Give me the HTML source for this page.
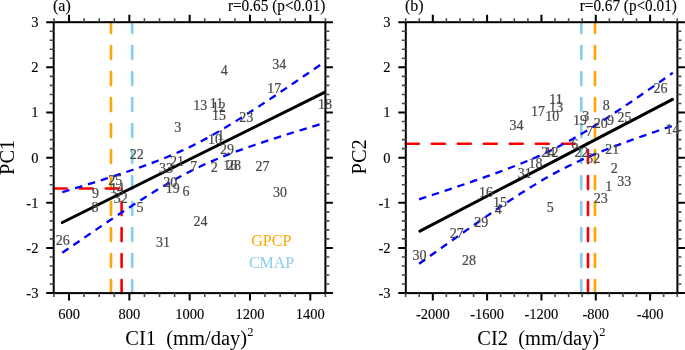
<!DOCTYPE html>
<html><head><meta charset="utf-8"><style>
html,body{margin:0;padding:0;background:#fff;width:685px;height:350px;overflow:hidden;}
svg{display:block;will-change:transform;}
</style></head><body>
<svg width="685" height="350" viewBox="0 0 685 350">
<line x1="111" y1="293.1" x2="111" y2="22.2" stroke="#ffa500" stroke-width="2.6" stroke-dasharray="13 13" stroke-linecap="round"/>
<line x1="121.6" y1="293.1" x2="121.6" y2="188.5" stroke="#ff0000" stroke-width="2.6" stroke-dasharray="13 13" stroke-linecap="round"/>
<line x1="132.2" y1="293.1" x2="132.2" y2="22.2" stroke="#87ceeb" stroke-width="2.6" stroke-dasharray="13 13" stroke-linecap="round"/>
<line x1="53.7" y1="188.5" x2="121.6" y2="188.5" stroke="#ff0000" stroke-width="2.6" stroke-dasharray="13 13" stroke-linecap="round"/>
<line x1="62.3" y1="222.5" x2="324.5" y2="92.42" stroke="#000" stroke-width="3" stroke-linecap="round"/>
<path d="M62.30,192.19 L66.67,190.87 L71.04,189.54 L75.41,188.21 L79.78,186.87 L84.15,185.52 L88.52,184.17 L92.89,182.81 L97.26,181.44 L101.63,180.06 L106.00,178.67 L110.37,177.27 L114.74,175.85 L119.11,174.42 L123.48,172.98 L127.85,171.51 L132.22,170.03 L136.59,168.52 L140.96,166.99 L145.33,165.43 L149.70,163.83 L154.07,162.20 L158.44,160.53 L162.81,158.82 L167.18,157.05 L171.55,155.24 L175.92,153.36 L180.29,151.42 L184.66,149.42 L189.03,147.35 L193.40,145.21 L197.77,143.00 L202.14,140.73 L206.51,138.38 L210.88,135.97 L215.25,133.50 L219.62,130.97 L223.99,128.39 L228.36,125.76 L232.73,123.08 L237.10,120.37 L241.47,117.62 L245.84,114.84 L250.21,112.04 L254.58,109.20 L258.95,106.35 L263.32,103.47 L267.69,100.58 L272.06,97.67 L276.43,94.75 L280.80,91.81 L285.17,88.86 L289.54,85.90 L293.91,82.94 L298.28,79.96 L302.65,76.97 L307.02,73.98 L311.39,70.98 L315.76,67.98 L320.13,64.97 L324.50,61.96" fill="none" stroke="#0000ff" stroke-width="2.3" stroke-dasharray="7.5 5.93"/>
<path d="M62.30,252.81 L66.67,249.80 L71.04,246.79 L75.41,243.79 L79.78,240.79 L84.15,237.80 L88.52,234.81 L92.89,231.84 L97.26,228.87 L101.63,225.92 L106.00,222.97 L110.37,220.04 L114.74,217.11 L119.11,214.21 L123.48,211.32 L127.85,208.45 L132.22,205.60 L136.59,202.77 L140.96,199.97 L145.33,197.19 L149.70,194.45 L154.07,191.74 L158.44,189.08 L162.81,186.46 L167.18,183.89 L171.55,181.37 L175.92,178.91 L180.29,176.51 L184.66,174.17 L189.03,171.91 L193.40,169.71 L197.77,167.58 L202.14,165.53 L206.51,163.54 L210.88,161.61 L215.25,159.75 L219.62,157.94 L223.99,156.19 L228.36,154.48 L232.73,152.82 L237.10,151.19 L241.47,149.61 L245.84,148.05 L250.21,146.52 L254.58,145.02 L258.95,143.54 L263.32,142.07 L267.69,140.63 L272.06,139.21 L276.43,137.79 L280.80,136.39 L285.17,135.01 L289.54,133.63 L293.91,132.26 L298.28,130.90 L302.65,129.55 L307.02,128.21 L311.39,126.87 L315.76,125.54 L320.13,124.21 L324.50,122.89" fill="none" stroke="#0000ff" stroke-width="2.3" stroke-dasharray="7.5 5.93"/>
<rect x="53.7" y="22.2" width="271.7" height="270.9" fill="none" stroke="#000" stroke-width="2"/>
<path d="M69.05,293.1v7.5M69.05,22.2v-7.5M129.36,293.1v7.5M129.36,22.2v-7.5M189.67,293.1v7.5M189.67,22.2v-7.5M249.99,293.1v7.5M249.99,22.2v-7.5M310.3,293.1v7.5M310.3,22.2v-7.5M53.7,293.1h-7.5M325.4,293.1h7.5M53.7,247.95h-7.5M325.4,247.95h7.5M53.7,202.8h-7.5M325.4,202.8h7.5M53.7,157.65h-7.5M325.4,157.65h7.5M53.7,112.5h-7.5M325.4,112.5h7.5M53.7,67.35h-7.5M325.4,67.35h7.5M53.7,22.2h-7.5M325.4,22.2h7.5" stroke="#000" stroke-width="2" fill="none"/>
<path d="M53.97,293.1v4M53.97,22.2v-4M84.13,293.1v4M84.13,22.2v-4M99.21,293.1v4M99.21,22.2v-4M114.28,293.1v4M114.28,22.2v-4M144.44,293.1v4M144.44,22.2v-4M159.52,293.1v4M159.52,22.2v-4M174.6,293.1v4M174.6,22.2v-4M204.75,293.1v4M204.75,22.2v-4M219.83,293.1v4M219.83,22.2v-4M234.91,293.1v4M234.91,22.2v-4M265.06,293.1v4M265.06,22.2v-4M280.14,293.1v4M280.14,22.2v-4M295.22,293.1v4M295.22,22.2v-4M325.38,293.1v4M325.38,22.2v-4M53.7,284.07h-4M325.4,284.07h4M53.7,275.04h-4M325.4,275.04h4M53.7,266.01h-4M325.4,266.01h4M53.7,256.98h-4M325.4,256.98h4M53.7,238.92h-4M325.4,238.92h4M53.7,229.89h-4M325.4,229.89h4M53.7,220.86h-4M325.4,220.86h4M53.7,211.83h-4M325.4,211.83h4M53.7,193.77h-4M325.4,193.77h4M53.7,184.74h-4M325.4,184.74h4M53.7,175.71h-4M325.4,175.71h4M53.7,166.68h-4M325.4,166.68h4M53.7,148.62h-4M325.4,148.62h4M53.7,139.59h-4M325.4,139.59h4M53.7,130.56h-4M325.4,130.56h4M53.7,121.53h-4M325.4,121.53h4M53.7,103.47h-4M325.4,103.47h4M53.7,94.44h-4M325.4,94.44h4M53.7,85.41h-4M325.4,85.41h4M53.7,76.38h-4M325.4,76.38h4M53.7,58.32h-4M325.4,58.32h4M53.7,49.29h-4M325.4,49.29h4M53.7,40.26h-4M325.4,40.26h4M53.7,31.23h-4M325.4,31.23h4" stroke="#4a4a4a" stroke-width="1.6" fill="none"/>
<g font-family='"Liberation Serif", serif' font-size="14.5" fill="#000" stroke="#000" stroke-width="0.12">
<text x="38.4" y="298" text-anchor="end">-3</text>
<text x="38.4" y="252.85" text-anchor="end">-2</text>
<text x="38.4" y="207.7" text-anchor="end">-1</text>
<text x="38.4" y="162.55" text-anchor="end">0</text>
<text x="38.4" y="117.4" text-anchor="end">1</text>
<text x="38.4" y="72.25" text-anchor="end">2</text>
<text x="38.4" y="27.1" text-anchor="end">3</text>
<text x="69.05" y="318.8" text-anchor="middle">600</text>
<text x="129.36" y="318.8" text-anchor="middle">800</text>
<text x="189.67" y="318.8" text-anchor="middle">1000</text>
<text x="249.99" y="318.8" text-anchor="middle">1200</text>
<text x="310.3" y="318.8" text-anchor="middle">1400</text>
</g>
<text x="53" y="10.9" font-family='"Liberation Serif", serif' font-size="16" stroke="#000" stroke-width="0.12" text-anchor="start">(a)</text>
<text x="325.4" y="10.9" font-family='"Liberation Serif", serif' font-size="16" stroke="#000" stroke-width="0.12" text-anchor="end" textLength="97.5" lengthAdjust="spacingAndGlyphs">r=0.65 (p&lt;0.01)</text>
<text transform="translate(14.2,157.3) rotate(-90)" font-family='"Liberation Serif", serif' font-size="20.5" text-anchor="middle">PC1</text>
<text x="125.3" y="345.4" font-family='"Liberation Serif", serif' font-size="20.5" xml:space="preserve">CI1  (mm/day)<tspan font-size="12.5" dy="-9">2</tspan></text>
<g font-family='"Liberation Serif", serif' font-size="14" fill="#474747" stroke="#474747" stroke-width="0.2" text-anchor="middle">
<text x="220.8" y="140.1">1</text>
<text x="214.2" y="172.2">2</text>
<text x="177.7" y="132">3</text>
<text x="224.2" y="74.8">4</text>
<text x="140" y="212.4">5</text>
<text x="186" y="196">6</text>
<text x="193.8" y="170.8">7</text>
<text x="95" y="211.9">8</text>
<text x="95.4" y="197.9">9</text>
<text x="215.1" y="143.9">10</text>
<text x="216.6" y="108.3">11</text>
<text x="218.8" y="111.6">12</text>
<text x="200.3" y="110.1">13</text>
<text x="117.1" y="193.4">14</text>
<text x="218.9" y="120.4">15</text>
<text x="230.2" y="169.8">16</text>
<text x="274.3" y="92.6">17</text>
<text x="325" y="109.1">18</text>
<text x="172.7" y="192.5">19</text>
<text x="170.2" y="186.8">20</text>
<text x="177" y="166.3">21</text>
<text x="136.8" y="159.4">22</text>
<text x="246.3" y="122.3">23</text>
<text x="200.4" y="225.8">24</text>
<text x="115.3" y="184.6">25</text>
<text x="62.7" y="245.3">26</text>
<text x="262.5" y="171.2">27</text>
<text x="234" y="169.8">28</text>
<text x="227" y="154.2">29</text>
<text x="280" y="197">30</text>
<text x="163" y="247.3">31</text>
<text x="120.7" y="202.7">32</text>
<text x="166" y="173.1">33</text>
<text x="279.3" y="68.6">34</text>
</g>
<line x1="581.3" y1="293.1" x2="581.3" y2="22.2" stroke="#87ceeb" stroke-width="2.6" stroke-dasharray="13 13" stroke-linecap="round"/>
<line x1="588" y1="293.1" x2="588" y2="143.8" stroke="#ff0000" stroke-width="2.6" stroke-dasharray="13 13" stroke-linecap="round"/>
<line x1="595" y1="293.1" x2="595" y2="22.2" stroke="#ffa500" stroke-width="2.6" stroke-dasharray="13 13" stroke-linecap="round"/>
<line x1="405.8" y1="143.8" x2="588" y2="143.8" stroke="#ff0000" stroke-width="2.6" stroke-dasharray="13 13" stroke-linecap="round"/>
<line x1="419.9" y1="231.16" x2="672.5" y2="99.43" stroke="#000" stroke-width="3" stroke-linecap="round"/>
<path d="M419.10,199.34 L423.33,197.96 L427.56,196.57 L431.79,195.17 L436.01,193.78 L440.24,192.37 L444.47,190.96 L448.70,189.55 L452.93,188.13 L457.16,186.70 L461.38,185.26 L465.61,183.82 L469.84,182.37 L474.07,180.91 L478.30,179.43 L482.52,177.94 L486.75,176.44 L490.98,174.93 L495.21,173.40 L499.44,171.84 L503.67,170.27 L507.89,168.68 L512.12,167.05 L516.35,165.40 L520.58,163.72 L524.81,162.00 L529.04,160.24 L533.26,158.44 L537.49,156.59 L541.72,154.69 L545.95,152.74 L550.18,150.72 L554.41,148.65 L558.63,146.51 L562.86,144.31 L567.09,142.04 L571.32,139.72 L575.55,137.33 L579.78,134.88 L584.00,132.38 L588.23,129.82 L592.46,127.22 L596.69,124.57 L600.92,121.88 L605.15,119.16 L609.38,116.41 L613.60,113.62 L617.83,110.81 L622.06,107.97 L626.29,105.12 L630.52,102.24 L634.75,99.35 L638.97,96.44 L643.20,93.52 L647.43,90.58 L651.66,87.64 L655.89,84.68 L660.12,81.72 L664.34,78.74 L668.57,75.76 L672.80,72.77" fill="none" stroke="#0000ff" stroke-width="2.3" stroke-dasharray="7.5 5.93"/>
<path d="M419.10,263.81 L423.33,260.79 L427.56,257.77 L431.79,254.75 L436.01,251.74 L440.24,248.73 L444.47,245.73 L448.70,242.73 L452.93,239.75 L457.16,236.76 L461.38,233.79 L465.61,230.82 L469.84,227.86 L474.07,224.92 L478.30,221.98 L482.52,219.06 L486.75,216.15 L490.98,213.25 L495.21,210.38 L499.44,207.52 L503.67,204.68 L507.89,201.86 L512.12,199.08 L516.35,196.32 L520.58,193.59 L524.81,190.90 L529.04,188.25 L533.26,185.64 L537.49,183.08 L541.72,180.57 L545.95,178.11 L550.18,175.72 L554.41,173.38 L558.63,171.11 L562.86,168.90 L567.09,166.75 L571.32,164.67 L575.55,162.65 L579.78,160.69 L584.00,158.78 L588.23,156.93 L592.46,155.12 L596.69,153.36 L600.92,151.63 L605.15,149.95 L609.38,148.29 L613.60,146.67 L617.83,145.07 L622.06,143.49 L626.29,141.94 L630.52,140.41 L634.75,138.89 L638.97,137.39 L643.20,135.90 L647.43,134.42 L651.66,132.96 L655.89,131.50 L660.12,130.06 L664.34,128.62 L668.57,127.19 L672.80,125.77" fill="none" stroke="#0000ff" stroke-width="2.3" stroke-dasharray="7.5 5.93"/>
<rect x="405.8" y="22.2" width="271.6" height="270.9" fill="none" stroke="#000" stroke-width="2"/>
<path d="M432.8,293.1v7.5M432.8,22.2v-7.5M487.12,293.1v7.5M487.12,22.2v-7.5M541.45,293.1v7.5M541.45,22.2v-7.5M595.77,293.1v7.5M595.77,22.2v-7.5M650.1,293.1v7.5M650.1,22.2v-7.5M405.8,293.1h-7.5M677.4,293.1h7.5M405.8,247.95h-7.5M677.4,247.95h7.5M405.8,202.8h-7.5M677.4,202.8h7.5M405.8,157.65h-7.5M677.4,157.65h7.5M405.8,112.5h-7.5M677.4,112.5h7.5M405.8,67.35h-7.5M677.4,67.35h7.5M405.8,22.2h-7.5M677.4,22.2h7.5" stroke="#000" stroke-width="2" fill="none"/>
<path d="M405.64,293.1v4M405.64,22.2v-4M419.22,293.1v4M419.22,22.2v-4M446.38,293.1v4M446.38,22.2v-4M459.96,293.1v4M459.96,22.2v-4M473.54,293.1v4M473.54,22.2v-4M500.7,293.1v4M500.7,22.2v-4M514.29,293.1v4M514.29,22.2v-4M527.87,293.1v4M527.87,22.2v-4M555.03,293.1v4M555.03,22.2v-4M568.61,293.1v4M568.61,22.2v-4M582.19,293.1v4M582.19,22.2v-4M609.35,293.1v4M609.35,22.2v-4M622.93,293.1v4M622.93,22.2v-4M636.51,293.1v4M636.51,22.2v-4M663.68,293.1v4M663.68,22.2v-4M677.26,293.1v4M677.26,22.2v-4M405.8,284.07h-4M677.4,284.07h4M405.8,275.04h-4M677.4,275.04h4M405.8,266.01h-4M677.4,266.01h4M405.8,256.98h-4M677.4,256.98h4M405.8,238.92h-4M677.4,238.92h4M405.8,229.89h-4M677.4,229.89h4M405.8,220.86h-4M677.4,220.86h4M405.8,211.83h-4M677.4,211.83h4M405.8,193.77h-4M677.4,193.77h4M405.8,184.74h-4M677.4,184.74h4M405.8,175.71h-4M677.4,175.71h4M405.8,166.68h-4M677.4,166.68h4M405.8,148.62h-4M677.4,148.62h4M405.8,139.59h-4M677.4,139.59h4M405.8,130.56h-4M677.4,130.56h4M405.8,121.53h-4M677.4,121.53h4M405.8,103.47h-4M677.4,103.47h4M405.8,94.44h-4M677.4,94.44h4M405.8,85.41h-4M677.4,85.41h4M405.8,76.38h-4M677.4,76.38h4M405.8,58.32h-4M677.4,58.32h4M405.8,49.29h-4M677.4,49.29h4M405.8,40.26h-4M677.4,40.26h4M405.8,31.23h-4M677.4,31.23h4" stroke="#4a4a4a" stroke-width="1.6" fill="none"/>
<g font-family='"Liberation Serif", serif' font-size="14.5" fill="#000" stroke="#000" stroke-width="0.12">
<text x="390.5" y="298" text-anchor="end">-3</text>
<text x="390.5" y="252.85" text-anchor="end">-2</text>
<text x="390.5" y="207.7" text-anchor="end">-1</text>
<text x="390.5" y="162.55" text-anchor="end">0</text>
<text x="390.5" y="117.4" text-anchor="end">1</text>
<text x="390.5" y="72.25" text-anchor="end">2</text>
<text x="390.5" y="27.1" text-anchor="end">3</text>
<text x="432.8" y="318.8" text-anchor="middle">-2000</text>
<text x="487.12" y="318.8" text-anchor="middle">-1600</text>
<text x="541.45" y="318.8" text-anchor="middle">-1200</text>
<text x="595.77" y="318.8" text-anchor="middle">-800</text>
<text x="650.1" y="318.8" text-anchor="middle">-400</text>
</g>
<text x="405" y="10.9" font-family='"Liberation Serif", serif' font-size="16" stroke="#000" stroke-width="0.12" text-anchor="start">(b)</text>
<text x="676.8" y="10.9" font-family='"Liberation Serif", serif' font-size="16" stroke="#000" stroke-width="0.12" text-anchor="end" textLength="97" lengthAdjust="spacingAndGlyphs">r=0.67 (p&lt;0.01)</text>
<text transform="translate(366.2,156.8) rotate(-90)" font-family='"Liberation Serif", serif' font-size="20.5" text-anchor="middle">PC2</text>
<text x="477.3" y="345.4" font-family='"Liberation Serif", serif' font-size="20.5" xml:space="preserve">CI2  (mm/day)<tspan font-size="12.5" dy="-9">2</tspan></text>
<g font-family='"Liberation Serif", serif' font-size="14" fill="#474747" stroke="#474747" stroke-width="0.2" text-anchor="middle">
<text x="608.7" y="191.3">1</text>
<text x="614.3" y="173.3">2</text>
<text x="585.8" y="121">3</text>
<text x="498.3" y="213.5">4</text>
<text x="550.2" y="212.3">5</text>
<text x="574.8" y="149.2">6</text>
<text x="589.5" y="135.8">7</text>
<text x="606.3" y="109.9">8</text>
<text x="610.5" y="124.6">9</text>
<text x="552.3" y="120.8">10</text>
<text x="556" y="103.7">11</text>
<text x="551.6" y="157">12</text>
<text x="556.3" y="112.2">13</text>
<text x="672.5" y="134.1">14</text>
<text x="500" y="206.8">15</text>
<text x="486" y="197.3">16</text>
<text x="538" y="115.7">17</text>
<text x="535.6" y="168.3">18</text>
<text x="580" y="125">19</text>
<text x="600.7" y="127.8">20</text>
<text x="612.2" y="153.8">21</text>
<text x="581.6" y="157.4">22</text>
<text x="600.7" y="203.2">23</text>
<text x="548.2" y="157">24</text>
<text x="624.5" y="122.1">25</text>
<text x="660.5" y="93.1">26</text>
<text x="456.8" y="238.2">27</text>
<text x="469" y="265.4">28</text>
<text x="481.3" y="227">29</text>
<text x="419.6" y="260">30</text>
<text x="524.8" y="177.8">31</text>
<text x="593.3" y="163.1">32</text>
<text x="624.2" y="186.1">33</text>
<text x="516.5" y="129.6">34</text>
</g>
<text x="271.3" y="246.1" font-family='"Liberation Serif", serif' font-size="16" fill="#ffa500" text-anchor="middle">GPCP</text>
<text x="271.6" y="267.9" font-family='"Liberation Serif", serif' font-size="16" fill="#87ceeb" text-anchor="middle">CMAP</text>
</svg>
</body></html>
